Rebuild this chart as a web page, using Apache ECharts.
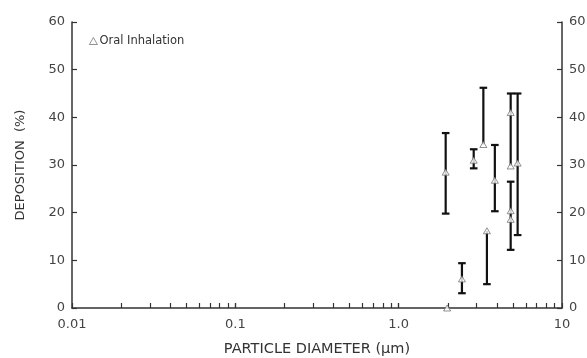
<!DOCTYPE html>
<html>
<head>
<meta charset="utf-8">
<title>Deposition vs particle diameter</title>
<script src="https://cdn.jsdelivr.net/npm/echarts@6/dist/echarts.min.js"></script>
<style>
  html, body { margin: 0; padding: 0; background: #fff; }
  #chart { width: 587px; height: 358px; }
</style>
</head>
<body>
<div id="chart"></div>
<script>
// Particle diameter (µm) and measured deposition (%) for oral inhalation
const diameter   = [1.94, 1.98, 2.44, 2.88, 3.30, 3.47, 3.88, 4.85, 4.85, 4.85, 4.85, 5.35];
const deposition = [28.5, 0.0, 6.1, 31.0, 34.3, 16.2, 26.8, 41.0, 29.8, 20.4, 18.6, 30.4];
// Lower / upper ends of each error bar (equal to the value where no bar is drawn)
const errLow  = [19.8, 0.0, 3.1, 29.3, 34.3, 5.0, 20.3, 41.0, 29.8, 12.2, 18.6, 15.3];
const errHigh = [36.7, 0.0, 9.4, 33.3, 46.2, 16.2, 34.2, 41.0, 45.0, 26.5, 18.6, 45.0];

const xTickLabels = { 0.01: '0.01', 0.1: '0.1', 1: '1.0', 10: '10' };
const yTicks = [0, 10, 20, 30, 40, 50, 60];
const seriesName = 'Oral Inhalation';

// Tick marks at every integer multiple within each decade
const xTickValues = [];
[0.01, 0.1, 1].forEach(function (d) {
  for (let k = 1; k <= 10; k++) xTickValues.push(+(k * d).toPrecision(3));
});

const font = '"DejaVu Sans", "Liberation Sans", Arial, sans-serif';
const axisColor = '#333';
const textColor = '#444';

const chart = echarts.init(document.getElementById('chart'));

const points = diameter.map(function (d, i) { return [d, deposition[i]]; });
const bars = diameter.map(function (d, i) { return [d, errLow[i], errHigh[i], deposition[i]]; });

function renderErrorBar(params, api) {
  const x = api.value(0);
  const lo = api.value(1);
  const hi = api.value(2);
  const v = api.value(3);
  if (lo === hi) return null;
  const pLo = api.coord([x, lo]);
  const pHi = api.coord([x, hi]);
  const half = 3.8;
  const style = { stroke: '#111', lineWidth: 2.2 };
  const children = [{
    type: 'line',
    shape: { x1: pLo[0], y1: pLo[1], x2: pHi[0], y2: pHi[1] },
    style: style
  }];
  if (hi !== v) children.push({
    type: 'line',
    shape: { x1: pHi[0] - half, y1: pHi[1], x2: pHi[0] + half, y2: pHi[1] },
    style: style
  });
  if (lo !== v) children.push({
    type: 'line',
    shape: { x1: pLo[0] - half, y1: pLo[1], x2: pLo[0] + half, y2: pLo[1] },
    style: style
  });
  return { type: 'group', children: children };
}

const yAxisCommon = {
  type: 'value',
  min: 0,
  max: 60,
  interval: 10,
  splitLine: { show: false },
  axisLine: { show: true, lineStyle: { color: axisColor, width: 1.5 } },
  axisTick: { show: true, inside: true, length: 5, lineStyle: { color: axisColor, width: 1.2 } },
  axisLabel: {
    color: textColor, fontFamily: font, fontSize: 13, margin: 7,
    formatter: function (v) { return yTicks.indexOf(v) >= 0 ? String(v) : ''; }
  }
};

chart.setOption({
  animation: false,
  backgroundColor: '#fff',
  grid: { left: 72, right: 25, top: 22, bottom: 50, containLabel: false, outerBoundsMode: 'none' },
  legend: {
    left: 84, top: 30,
    itemWidth: 8, itemHeight: 7, itemGap: 4,
    icon: 'triangle',
    textStyle: { color: '#333', fontFamily: font, fontSize: 11.5, padding: [0, 0, 0, -3] },
    itemStyle: { color: '#fff', borderColor: '#555', borderWidth: 0.8 },
    data: [seriesName]
  },
  xAxis: {
    type: 'log',
    logBase: 10,
    min: 0.01,
    max: 10,
    name: 'PARTICLE DIAMETER (\u00b5m)',
    nameLocation: 'middle',
    nameGap: 34,
    nameTextStyle: { color: '#333', fontFamily: font, fontSize: 14.5 },
    splitLine: { show: false },
    axisLine: { show: true, onZero: false, lineStyle: { color: axisColor, width: 1.5 } },
    axisTick: {
      show: true, inside: true, length: 5,
      customValues: xTickValues,
      lineStyle: { color: axisColor, width: 1.2 }
    },
    axisLabel: {
      color: textColor, fontFamily: font, fontSize: 13, margin: 10,
      formatter: function (v) {
        const key = +(+v).toPrecision(3);
        return xTickLabels[key] !== undefined ? xTickLabels[key] : '';
      }
    }
  },
  yAxis: [
    Object.assign({}, yAxisCommon, {
      position: 'left',
      name: 'DEPOSITION  (%)',
      nameLocation: 'middle',
      nameGap: 45,
      nameRotate: 90,
      nameTextStyle: { color: '#333', fontFamily: font, fontSize: 13 }
    }),
    Object.assign({}, yAxisCommon, { position: 'right' })
  ],
  series: [
    {
      type: 'custom',
      name: 'error',
      renderItem: renderErrorBar,
      encode: { x: 0, y: [1, 2] },
      data: bars,
      z: 2,
      silent: true
    },
    {
      type: 'scatter',
      name: seriesName,
      symbol: 'triangle',
      symbolSize: [7, 6],
      itemStyle: { color: '#fff', borderColor: '#666', borderWidth: 0.9 },
      data: points,
      z: 3
    }
  ]
});
</script>
</body>
</html>
